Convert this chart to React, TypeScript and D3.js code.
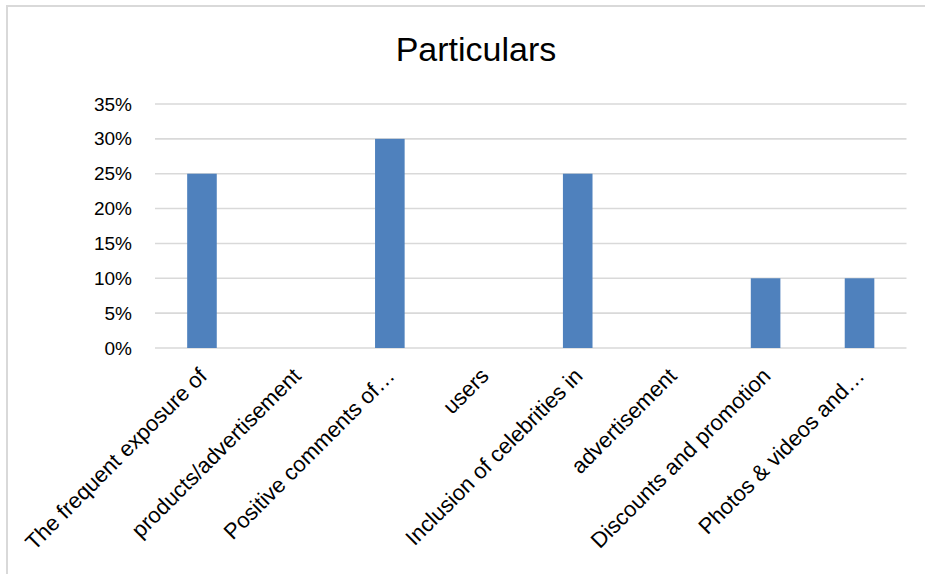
import React from "react";
import * as d3 from "d3";

const categories: string[] = [
  "The frequent exposure of",
  "products/advertisement",
  "Positive comments of…",
  "users",
  "Inclusion of celebrities in",
  "advertisement",
  "Discounts and promotion",
  "Photos & videos and…",
];
const values: (number | null)[] = [0.25, null, 0.3, null, 0.25, null, 0.1, 0.1];
const yTicks: number[] = [0, 0.05, 0.1, 0.15, 0.2, 0.25, 0.3, 0.35];
const title = "Particulars";

const W = 925;
const H = 574;
const FONT = "'Liberation Sans', Arial, sans-serif";

export default function App() {
  const x = d3
    .scaleBand<number>()
    .domain(categories.map((_, i) => i))
    .range([155, 906.5])
    .paddingInner(0.685)
    .paddingOuter(0.3425);
  const y = d3.scaleLinear().domain([0, 0.35]).range([348, 104]);
  const fmt = d3.format(".0%");

  return (
    <svg
      width={W}
      height={H}
      style={{ position: "absolute", left: 0, top: 0, background: "#fff" }}
      fontFamily={FONT}
    >
      <rect x={0} y={0} width={W} height={H} fill="#fff" />
      <path d={`M7,${H + 5} V6 H${W + 5}`} fill="none" stroke="#d9d9d9" strokeWidth={2} />
      <text x={476} y={61} textAnchor="middle" fontSize={34} fill="#000">
        {title}
      </text>
      {yTicks.map((t) => (
        <g key={t}>
          <line
            x1={x.range()[0]}
            x2={x.range()[1]}
            y1={y(t)}
            y2={y(t)}
            stroke="#d9d9d9"
            strokeWidth={1.6}
          />
          <text
            x={132}
            y={y(t)}
            textAnchor="end"
            dominantBaseline="central"
            fontSize={19}
            fill="#000"
          >
            {fmt(t)}
          </text>
        </g>
      ))}
      {values.map((v, i) =>
        v == null ? null : (
          <rect
            key={i}
            x={x(i)!}
            width={x.bandwidth()}
            y={y(v)}
            height={y(0) - y(v)}
            fill="#4f81bd"
          />
        )
      )}
      {categories.map((c, i) => {
        const cx = x(i)! + x.bandwidth() / 2 + 1;
        const cy = 372;
        return (
          <text
            key={c}
            transform={`translate(${cx},${cy}) rotate(-45)`}
            textAnchor="end"
            dominantBaseline="central"
            fontSize={22}
            fill="#000"
          >
            {c}
          </text>
        );
      })}
    </svg>
  );
}
